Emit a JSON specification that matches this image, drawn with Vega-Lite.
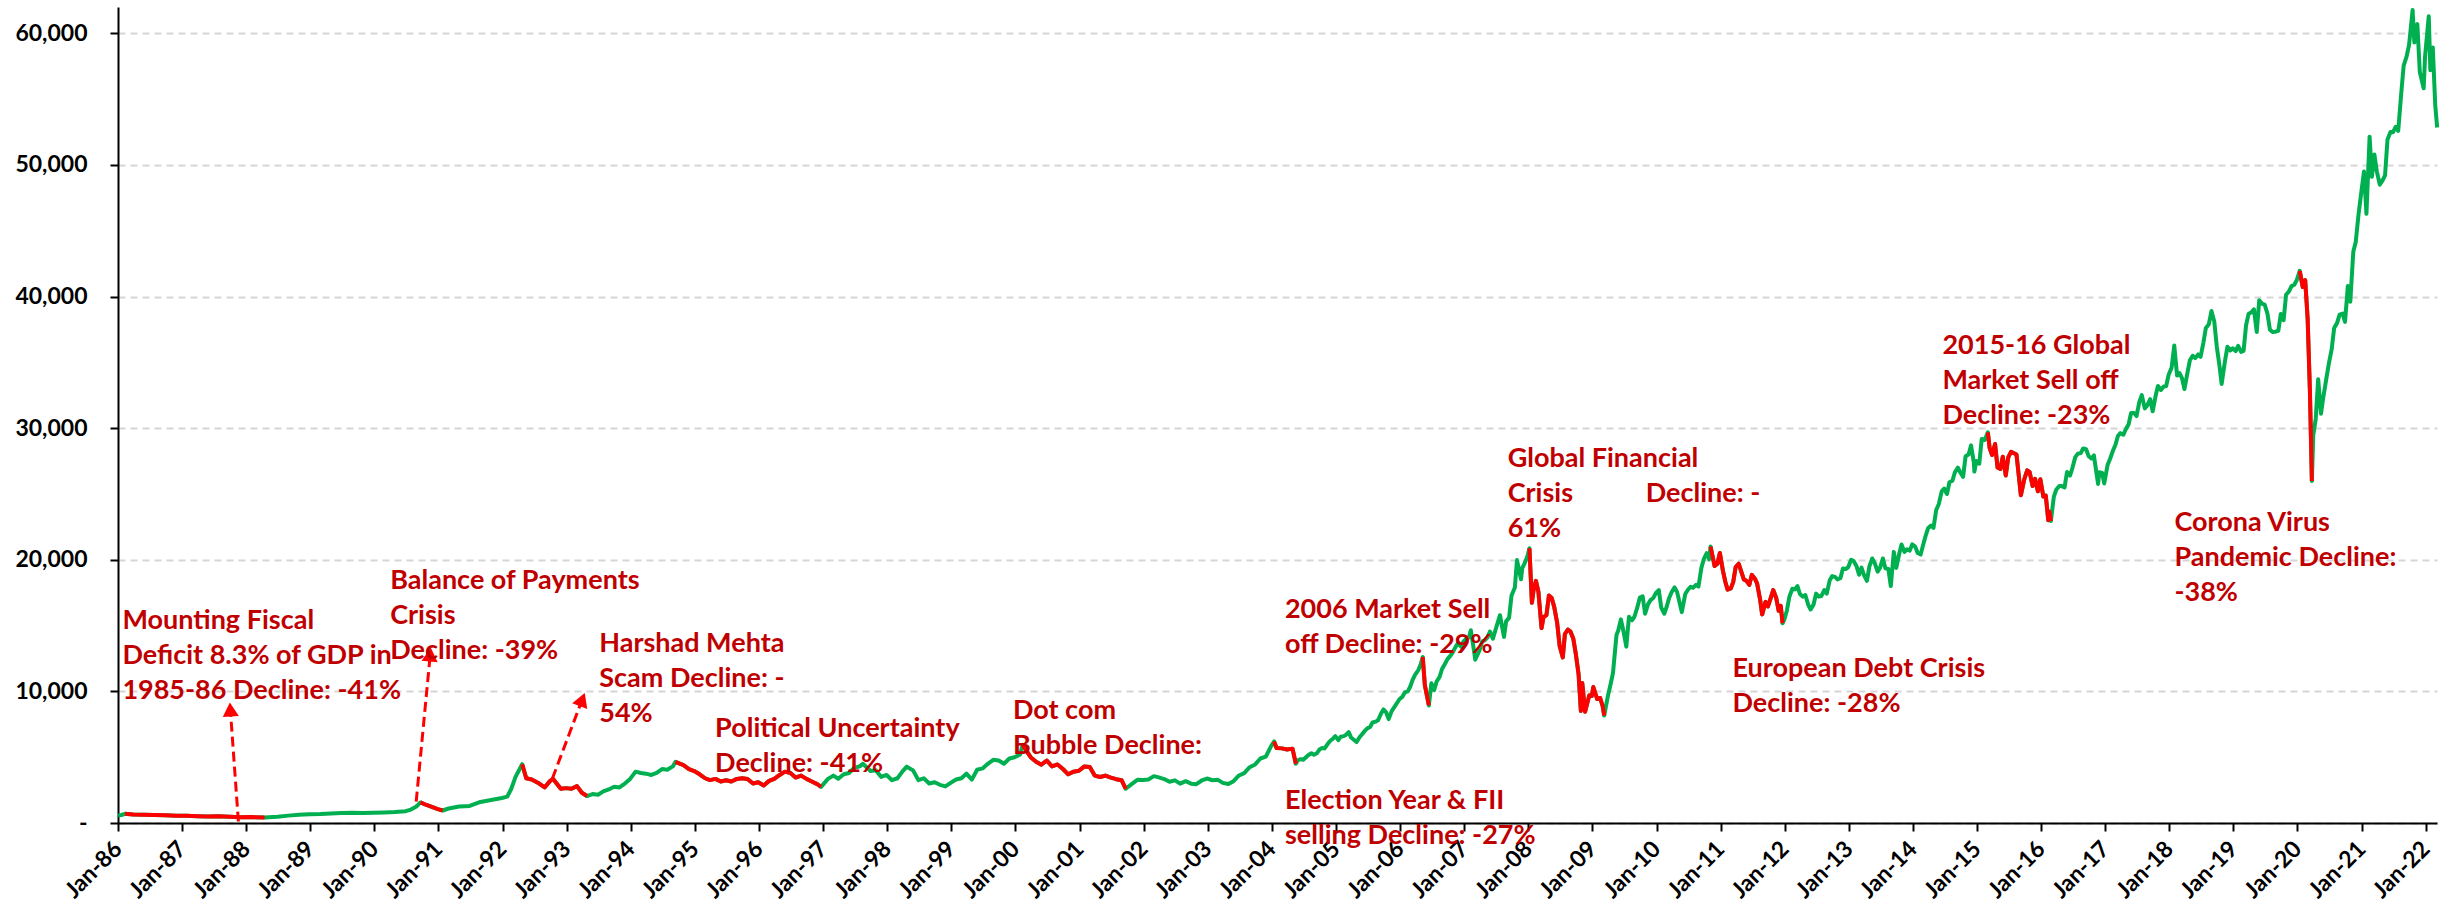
{
 "$schema": "https://vega.github.io/schema/vega-lite/v6.json",
 "width": 2319, "height": 816,
 "autosize": {"type": "none"},
 "padding": {"left": 118, "top": 7, "right": 19, "bottom": 93},
 "background": "white",
 "config": {"view": {"stroke": null}, "font": "Lato"},
 "datasets": {
  "s": [
{"d":"1986-01-02","v":560},{"d":"1986-01-20","v":610},
{"d":"1986-02-10","v":700,"r":1},{"d":"1986-03-28","v":640,"r":1},{"d":"1986-05-28","v":620,"r":1},{"d":"1986-07-28","v":600,"r":1},{"d":"1986-09-28","v":590,"r":1},{"d":"1986-11-28","v":560,"r":1},{"d":"1987-01-28","v":550,"r":1},{"d":"1987-03-28","v":520,"r":1},{"d":"1987-05-28","v":500,"r":1},{"d":"1987-07-28","v":520,"r":1},{"d":"1987-09-28","v":480,"r":1},{"d":"1987-11-28","v":430,"r":1},{"d":"1988-01-28","v":450,"r":1},{"d":"1988-04-15","v":410,"r":1},
{"d":"1988-06-28","v":470},{"d":"1988-08-28","v":560},{"d":"1988-10-28","v":620},{"d":"1988-12-28","v":660},{"d":"1989-02-28","v":680},{"d":"1989-04-28","v":720},{"d":"1989-06-28","v":760},{"d":"1989-08-28","v":780},{"d":"1989-10-28","v":760},{"d":"1989-12-28","v":780},{"d":"1990-02-28","v":800},{"d":"1990-04-28","v":830},{"d":"1990-06-28","v":900},{"d":"1990-07-28","v":1020},{"d":"1990-08-28","v":1250},
{"d":"1990-09-20","v":1560,"r":2},{"d":"1990-10-28","v":1350,"r":2},{"d":"1990-11-28","v":1200,"r":2},{"d":"1990-12-28","v":1050,"r":2},{"d":"1991-01-25","v":950,"r":2},
{"d":"1991-02-28","v":1100},{"d":"1991-04-28","v":1250},{"d":"1991-06-28","v":1300},{"d":"1991-08-28","v":1600},{"d":"1991-10-28","v":1750},{"d":"1991-12-28","v":1900},{"d":"1992-01-28","v":2000},{"d":"1992-02-20","v":2600},{"d":"1992-03-15","v":3500},
{"d":"1992-04-22","v":4467,"r":3},{"d":"1992-05-15","v":3400,"r":3},{"d":"1992-06-15","v":3300,"r":3},{"d":"1992-07-28","v":3000,"r":3},{"d":"1992-08-28","v":2700,"r":3},{"d":"1992-09-28","v":3200,"r":3},{"d":"1992-10-15","v":3350,"r":3},{"d":"1992-11-28","v":2600,"r":3},{"d":"1992-12-28","v":2650,"r":3},{"d":"1993-01-28","v":2600,"r":3},{"d":"1993-02-28","v":2800,"r":3},{"d":"1993-03-28","v":2300,"r":3},{"d":"1993-04-26","v":2050,"r":3},
{"d":"1993-05-28","v":2200},{"d":"1993-06-28","v":2150},{"d":"1993-07-28","v":2400},{"d":"1993-08-28","v":2550},{"d":"1993-09-28","v":2750},{"d":"1993-10-28","v":2700},{"d":"1993-11-28","v":3000},{"d":"1993-12-28","v":3350},{"d":"1994-01-28","v":3900},{"d":"1994-02-28","v":3800},{"d":"1994-03-28","v":3750},{"d":"1994-04-28","v":3650},{"d":"1994-05-28","v":3800},{"d":"1994-06-28","v":4100},{"d":"1994-07-28","v":4050},{"d":"1994-08-28","v":4300},
{"d":"1994-09-12","v":4643,"r":4},{"d":"1994-10-28","v":4400,"r":4},{"d":"1994-11-28","v":4100,"r":4},{"d":"1994-12-28","v":3950,"r":4},{"d":"1995-01-28","v":3700,"r":4},{"d":"1995-02-28","v":3400,"r":4},{"d":"1995-03-28","v":3260,"r":4},{"d":"1995-04-28","v":3350,"r":4},{"d":"1995-05-28","v":3150,"r":4},{"d":"1995-06-28","v":3250,"r":4},{"d":"1995-07-28","v":3150,"r":4},{"d":"1995-08-28","v":3350,"r":4},{"d":"1995-09-28","v":3400,"r":4},{"d":"1995-10-28","v":3350,"r":4},{"d":"1995-11-28","v":3000,"r":4},{"d":"1995-12-28","v":3100,"r":4},{"d":"1996-01-28","v":2850,"r":4},{"d":"1996-02-28","v":3200,"r":4},{"d":"1996-03-28","v":3350,"r":4},{"d":"1996-04-28","v":3650,"r":4},{"d":"1996-05-28","v":3900,"r":4},{"d":"1996-06-28","v":3800,"r":4},{"d":"1996-07-28","v":3450,"r":4},{"d":"1996-08-28","v":3600,"r":4},{"d":"1996-09-28","v":3350,"r":4},{"d":"1996-10-28","v":3150,"r":4},{"d":"1996-11-28","v":2950,"r":4},{"d":"1996-12-20","v":2745,"r":4},
{"d":"1997-01-28","v":3350},{"d":"1997-02-28","v":3600},{"d":"1997-03-28","v":3360},{"d":"1997-04-28","v":3700},{"d":"1997-05-28","v":3800},{"d":"1997-06-28","v":4200},{"d":"1997-07-28","v":4300},{"d":"1997-08-15","v":4500},{"d":"1997-09-28","v":3950},{"d":"1997-10-28","v":4000},{"d":"1997-11-28","v":3500},{"d":"1997-12-28","v":3650},{"d":"1998-01-28","v":3250},{"d":"1998-02-28","v":3400},{"d":"1998-03-28","v":3900},{"d":"1998-04-22","v":4280},{"d":"1998-05-28","v":4000},{"d":"1998-06-28","v":3250},{"d":"1998-07-28","v":3400},{"d":"1998-08-28","v":3000},{"d":"1998-09-28","v":3100},{"d":"1998-10-28","v":2900},{"d":"1998-11-28","v":2780},{"d":"1998-12-28","v":3050},{"d":"1999-01-28","v":3300},{"d":"1999-02-28","v":3400},{"d":"1999-03-28","v":3750},{"d":"1999-04-28","v":3300},{"d":"1999-05-28","v":4050},{"d":"1999-06-28","v":4150},{"d":"1999-07-28","v":4500},{"d":"1999-08-28","v":4800},{"d":"1999-09-28","v":4750},{"d":"1999-10-28","v":4500},{"d":"1999-11-28","v":4900},{"d":"1999-12-28","v":5000},{"d":"2000-01-28","v":5200},
{"d":"2000-02-11","v":5934,"r":5},{"d":"2000-03-28","v":5000,"r":5},{"d":"2000-04-28","v":4650,"r":5},{"d":"2000-05-28","v":4430,"r":5},{"d":"2000-06-28","v":4750,"r":5},{"d":"2000-07-28","v":4300,"r":5},{"d":"2000-08-28","v":4450,"r":5},{"d":"2000-09-28","v":4100,"r":5},{"d":"2000-10-28","v":3700,"r":5},{"d":"2000-11-28","v":3900,"r":5},{"d":"2000-12-28","v":3970,"r":5},{"d":"2001-01-28","v":4300,"r":5},{"d":"2001-02-28","v":4250,"r":5},{"d":"2001-03-28","v":3600,"r":5},{"d":"2001-04-28","v":3500,"r":5},{"d":"2001-05-28","v":3600,"r":5},{"d":"2001-06-28","v":3450,"r":5},{"d":"2001-07-28","v":3330,"r":5},{"d":"2001-08-28","v":3250,"r":5},{"d":"2001-09-21","v":2600,"r":5},
{"d":"2001-10-28","v":2990},{"d":"2001-11-28","v":3290},{"d":"2001-12-28","v":3260},{"d":"2002-01-28","v":3310},{"d":"2002-02-28","v":3560},{"d":"2002-03-28","v":3470},{"d":"2002-04-28","v":3340},{"d":"2002-05-28","v":3130},{"d":"2002-06-28","v":3240},{"d":"2002-07-28","v":2990},{"d":"2002-08-28","v":3180},{"d":"2002-09-28","v":2990},{"d":"2002-10-28","v":2950},{"d":"2002-11-28","v":3230},{"d":"2002-12-28","v":3380},{"d":"2003-01-28","v":3250},{"d":"2003-02-28","v":3280},{"d":"2003-03-28","v":3050},{"d":"2003-04-28","v":2960},{"d":"2003-05-28","v":3180},{"d":"2003-06-28","v":3610},{"d":"2003-07-28","v":3790},{"d":"2003-08-28","v":4240},{"d":"2003-09-28","v":4450},{"d":"2003-10-28","v":4900},{"d":"2003-11-28","v":5040},{"d":"2003-12-28","v":5840},
{"d":"2004-01-14","v":6194,"r":6},{"d":"2004-01-28","v":5700,"r":6},{"d":"2004-02-28","v":5670,"r":6},{"d":"2004-03-28","v":5590,"r":6},{"d":"2004-04-28","v":5650,"r":6},{"d":"2004-05-17","v":4505,"r":6},
{"d":"2004-05-28","v":4760},{"d":"2004-06-14","v":4850},{"d":"2004-06-28","v":4800},{"d":"2004-07-14","v":5000},{"d":"2004-07-28","v":5170},{"d":"2004-08-14","v":5300},{"d":"2004-08-28","v":5190},{"d":"2004-09-14","v":5300},{"d":"2004-09-28","v":5580},{"d":"2004-10-14","v":5700},{"d":"2004-10-28","v":5670},{"d":"2004-11-14","v":6000},{"d":"2004-11-28","v":6230},{"d":"2004-12-14","v":6400},{"d":"2004-12-28","v":6600},
{"d":"2005-01-14","v":6300},{"d":"2005-01-28","v":6560},{"d":"2005-02-14","v":6600},{"d":"2005-02-28","v":6710},{"d":"2005-03-14","v":6900},{"d":"2005-03-28","v":6490},{"d":"2005-04-14","v":6300},{"d":"2005-04-28","v":6150},{"d":"2005-05-14","v":6500},{"d":"2005-05-28","v":6720},{"d":"2005-06-14","v":7000},{"d":"2005-06-28","v":7190},{"d":"2005-07-14","v":7300},{"d":"2005-07-28","v":7640},{"d":"2005-08-14","v":7700},{"d":"2005-08-28","v":7800},{"d":"2005-09-14","v":8300},{"d":"2005-09-28","v":8630},{"d":"2005-10-14","v":8400},{"d":"2005-10-28","v":7890},{"d":"2005-11-14","v":8500},{"d":"2005-11-28","v":8790},{"d":"2005-12-14","v":9100},{"d":"2005-12-28","v":9400},
{"d":"2006-01-14","v":9600},{"d":"2006-01-28","v":9920},{"d":"2006-02-14","v":10000},{"d":"2006-02-28","v":10370},{"d":"2006-03-14","v":10900},{"d":"2006-03-28","v":11280},{"d":"2006-04-14","v":11600},{"d":"2006-04-28","v":12040},
{"d":"2006-05-10","v":12612,"r":7},{"d":"2006-05-22","v":10480,"r":7},{"d":"2006-06-14","v":8929,"r":7},
{"d":"2006-06-28","v":10610},{"d":"2006-07-14","v":10100},{"d":"2006-07-28","v":10740},{"d":"2006-08-14","v":11100},{"d":"2006-08-28","v":11700},{"d":"2006-09-14","v":12100},{"d":"2006-09-28","v":12450},{"d":"2006-10-14","v":12700},{"d":"2006-10-28","v":12960},{"d":"2006-11-14","v":13400},{"d":"2006-11-28","v":13700},{"d":"2006-12-14","v":13400},{"d":"2006-12-28","v":13790},
{"d":"2007-01-14","v":14000},{"d":"2007-01-28","v":14090},{"d":"2007-02-08","v":14650},{"d":"2007-02-28","v":12940},{"d":"2007-03-05","v":12410},{"d":"2007-03-28","v":13070},{"d":"2007-04-14","v":13800},{"d":"2007-04-28","v":13870},{"d":"2007-05-14","v":14100},{"d":"2007-05-28","v":14540},{"d":"2007-06-14","v":14000},{"d":"2007-06-28","v":14650},{"d":"2007-07-24","v":15790},{"d":"2007-08-16","v":14140},{"d":"2007-08-28","v":15320},{"d":"2007-09-14","v":15600},{"d":"2007-09-28","v":17290},{"d":"2007-10-17","v":17900},{"d":"2007-10-29","v":19980},{"d":"2007-11-21","v":18520},{"d":"2007-11-28","v":19360},{"d":"2007-12-14","v":19800},{"d":"2007-12-28","v":20290},
{"d":"2008-01-08","v":20873,"r":8},{"d":"2008-01-22","v":16730,"r":8},{"d":"2008-01-31","v":17650,"r":8},{"d":"2008-02-14","v":18400,"r":8},{"d":"2008-02-28","v":17580,"r":8},{"d":"2008-03-17","v":14810,"r":8},{"d":"2008-03-28","v":15640,"r":8},{"d":"2008-04-14","v":15800,"r":8},{"d":"2008-04-28","v":17290,"r":8},{"d":"2008-05-14","v":17100,"r":8},{"d":"2008-05-28","v":16420,"r":8},{"d":"2008-06-14","v":15200,"r":8},{"d":"2008-06-28","v":13460,"r":8},{"d":"2008-07-16","v":12580,"r":8},{"d":"2008-07-28","v":14360,"r":8},{"d":"2008-08-14","v":14700,"r":8},{"d":"2008-08-28","v":14560,"r":8},{"d":"2008-09-14","v":14000,"r":8},{"d":"2008-09-28","v":12860,"r":8},{"d":"2008-10-14","v":11300,"r":8},{"d":"2008-10-27","v":8510,"r":8},{"d":"2008-11-04","v":10630,"r":8},{"d":"2008-11-20","v":8450,"r":8},{"d":"2008-12-14","v":9700,"r":8},{"d":"2008-12-28","v":9650,"r":8},{"d":"2009-01-06","v":10330,"r":8},{"d":"2009-01-28","v":9420,"r":8},{"d":"2009-02-14","v":9500,"r":8},{"d":"2009-02-28","v":8890,"r":8},{"d":"2009-03-09","v":8160,"r":8},
{"d":"2009-03-31","v":9710},{"d":"2009-04-14","v":10520},{"d":"2009-04-28","v":11400},{"d":"2009-05-18","v":14280},{"d":"2009-05-28","v":14630},{"d":"2009-06-12","v":15470},{"d":"2009-06-28","v":14490},{"d":"2009-07-13","v":13400},{"d":"2009-07-28","v":15670},{"d":"2009-08-14","v":15400},{"d":"2009-08-28","v":15670},{"d":"2009-09-14","v":16400},{"d":"2009-09-28","v":17130},{"d":"2009-10-14","v":17230},{"d":"2009-10-28","v":15900},{"d":"2009-11-14","v":16630},{"d":"2009-11-28","v":16930},{"d":"2009-12-14","v":17100},{"d":"2009-12-28","v":17460},
{"d":"2010-01-14","v":17700},{"d":"2010-01-28","v":16360},{"d":"2010-02-14","v":15900},{"d":"2010-02-28","v":16430},{"d":"2010-03-14","v":17100},{"d":"2010-03-28","v":17530},{"d":"2010-04-14","v":17900},{"d":"2010-04-28","v":17560},{"d":"2010-05-25","v":16020},{"d":"2010-06-14","v":17400},{"d":"2010-06-28","v":17700},{"d":"2010-07-14","v":17950},{"d":"2010-07-28","v":17870},{"d":"2010-08-14","v":18100},{"d":"2010-08-28","v":17970},{"d":"2010-09-14","v":19400},{"d":"2010-09-28","v":20070},{"d":"2010-10-14","v":20500},{"d":"2010-10-28","v":20030},
{"d":"2010-11-05","v":21005,"r":9},{"d":"2010-11-28","v":19520,"r":9},{"d":"2010-12-14","v":19700,"r":9},{"d":"2010-12-28","v":20510,"r":9},{"d":"2011-01-14","v":19200,"r":9},{"d":"2011-01-28","v":18330,"r":9},{"d":"2011-02-10","v":17730,"r":9},{"d":"2011-02-28","v":17820,"r":9},{"d":"2011-03-14","v":18300,"r":9},{"d":"2011-03-28","v":19450,"r":9},{"d":"2011-04-14","v":19700,"r":9},{"d":"2011-04-28","v":19140,"r":9},{"d":"2011-05-14","v":18500,"r":9},{"d":"2011-05-28","v":18400,"r":9},{"d":"2011-06-14","v":18100,"r":9},{"d":"2011-06-28","v":18850,"r":9},{"d":"2011-07-14","v":18600,"r":9},{"d":"2011-07-28","v":18200,"r":9},{"d":"2011-08-14","v":17000,"r":9},{"d":"2011-08-26","v":15850,"r":9},{"d":"2011-09-14","v":16800,"r":9},{"d":"2011-09-28","v":16450,"r":9},{"d":"2011-10-14","v":17100,"r":9},{"d":"2011-10-28","v":17700,"r":9},{"d":"2011-11-14","v":17100,"r":9},{"d":"2011-11-28","v":16120,"r":9},{"d":"2011-12-10","v":16500,"r":9},{"d":"2011-12-20","v":15175,"r":9},
{"d":"2011-12-30","v":15450},{"d":"2012-01-14","v":16150},{"d":"2012-01-28","v":17190},{"d":"2012-02-14","v":17800},{"d":"2012-02-28","v":17750},{"d":"2012-03-14","v":18000},{"d":"2012-03-28","v":17400},{"d":"2012-04-14","v":17200},{"d":"2012-04-28","v":17320},{"d":"2012-05-14","v":16600},{"d":"2012-05-28","v":16220},{"d":"2012-06-14","v":16600},{"d":"2012-06-28","v":17430},{"d":"2012-07-14","v":17200},{"d":"2012-07-28","v":17240},{"d":"2012-08-14","v":17700},{"d":"2012-08-28","v":17430},{"d":"2012-09-14","v":18450},{"d":"2012-09-28","v":18760},{"d":"2012-10-14","v":18700},{"d":"2012-10-28","v":18510},{"d":"2012-11-14","v":18600},{"d":"2012-11-28","v":19340},{"d":"2012-12-14","v":19300},{"d":"2012-12-28","v":19430},
{"d":"2013-01-14","v":20000},{"d":"2013-01-28","v":19900},{"d":"2013-02-14","v":19500},{"d":"2013-02-28","v":18860},{"d":"2013-03-14","v":19400},{"d":"2013-03-28","v":18840},{"d":"2013-04-14","v":18400},{"d":"2013-04-28","v":19500},{"d":"2013-05-14","v":20100},{"d":"2013-05-28","v":19760},{"d":"2013-06-14","v":19100},{"d":"2013-06-28","v":19400},{"d":"2013-07-14","v":20100},{"d":"2013-07-28","v":19350},{"d":"2013-08-14","v":19300},{"d":"2013-08-28","v":18000},{"d":"2013-09-14","v":20600},{"d":"2013-09-28","v":19380},{"d":"2013-10-14","v":20400},{"d":"2013-10-28","v":21160},{"d":"2013-11-14","v":20600},{"d":"2013-11-28","v":20790},{"d":"2013-12-14","v":20700},{"d":"2013-12-28","v":21170},
{"d":"2014-01-14","v":21000},{"d":"2014-01-28","v":20510},{"d":"2014-02-14","v":20400},{"d":"2014-02-28","v":21120},{"d":"2014-03-14","v":21800},{"d":"2014-03-28","v":22390},{"d":"2014-04-14","v":22600},{"d":"2014-04-28","v":22420},{"d":"2014-05-14","v":23800},{"d":"2014-05-28","v":24220},{"d":"2014-06-14","v":25200},{"d":"2014-06-28","v":25410},{"d":"2014-07-14","v":25000},{"d":"2014-07-28","v":25890},{"d":"2014-08-14","v":26000},{"d":"2014-08-28","v":26640},{"d":"2014-09-14","v":27000},{"d":"2014-09-28","v":26630},{"d":"2014-10-14","v":26300},{"d":"2014-10-28","v":27870},{"d":"2014-11-14","v":28000},{"d":"2014-11-28","v":28690},{"d":"2014-12-14","v":27400},{"d":"2014-12-17","v":26700},{"d":"2014-12-28","v":27500},{"d":"2015-01-14","v":27300},{"d":"2015-01-28","v":29180},{"d":"2015-02-14","v":29100},
{"d":"2015-03-04","v":29681,"r":10},{"d":"2015-03-14","v":28500,"r":10},{"d":"2015-03-28","v":27960,"r":10},{"d":"2015-04-14","v":28800,"r":10},{"d":"2015-04-28","v":27010,"r":10},{"d":"2015-05-14","v":26900,"r":10},{"d":"2015-05-28","v":27830,"r":10},{"d":"2015-06-14","v":26400,"r":10},{"d":"2015-06-28","v":27780,"r":10},{"d":"2015-07-14","v":28200,"r":10},{"d":"2015-07-28","v":28110,"r":10},{"d":"2015-08-14","v":28000,"r":10},{"d":"2015-08-28","v":26280,"r":10},{"d":"2015-09-08","v":24900,"r":10},{"d":"2015-09-28","v":26150,"r":10},{"d":"2015-10-14","v":26800,"r":10},{"d":"2015-10-28","v":26660,"r":10},{"d":"2015-11-14","v":25600,"r":10},{"d":"2015-11-28","v":26150,"r":10},{"d":"2015-12-14","v":25200,"r":10},{"d":"2015-12-28","v":26120,"r":10},{"d":"2016-01-14","v":24800,"r":10},{"d":"2016-01-28","v":24870,"r":10},{"d":"2016-02-11","v":23000,"r":10},{"d":"2016-02-18","v":23650,"r":10},{"d":"2016-02-26","v":22951,"r":10},
{"d":"2016-03-14","v":24800},{"d":"2016-03-28","v":25340},{"d":"2016-04-14","v":25600},{"d":"2016-04-28","v":25600},{"d":"2016-05-14","v":25500},{"d":"2016-05-28","v":26670},{"d":"2016-06-14","v":26400},{"d":"2016-06-28","v":26990},{"d":"2016-07-14","v":27800},{"d":"2016-07-28","v":28050},{"d":"2016-08-14","v":28100},{"d":"2016-08-28","v":28450},{"d":"2016-09-14","v":28400},{"d":"2016-09-28","v":27870},{"d":"2016-10-14","v":27700},{"d":"2016-10-28","v":27930},{"d":"2016-11-21","v":25765},{"d":"2016-11-28","v":26650},{"d":"2016-12-14","v":26600},{"d":"2016-12-26","v":25800},
{"d":"2017-01-14","v":27200},{"d":"2017-01-28","v":27660},{"d":"2017-02-14","v":28300},{"d":"2017-02-28","v":28740},{"d":"2017-03-14","v":29400},{"d":"2017-03-28","v":29620},{"d":"2017-04-14","v":29500},{"d":"2017-04-28","v":29920},{"d":"2017-05-14","v":30300},{"d":"2017-05-28","v":31150},{"d":"2017-06-14","v":31150},{"d":"2017-06-28","v":30920},{"d":"2017-07-14","v":32000},{"d":"2017-07-28","v":32510},{"d":"2017-08-14","v":31500},{"d":"2017-08-28","v":31730},{"d":"2017-09-14","v":32200},{"d":"2017-09-28","v":31280},{"d":"2017-10-14","v":32400},{"d":"2017-10-28","v":33210},{"d":"2017-11-14","v":32900},{"d":"2017-11-28","v":33150},{"d":"2017-12-14","v":33200},{"d":"2017-12-28","v":34060},
{"d":"2018-01-14","v":34600},{"d":"2018-01-29","v":36280},{"d":"2018-02-14","v":34000},{"d":"2018-02-28","v":34180},{"d":"2018-03-14","v":33800},{"d":"2018-03-28","v":32970},{"d":"2018-04-14","v":34200},{"d":"2018-04-28","v":35160},{"d":"2018-05-14","v":35500},{"d":"2018-05-28","v":35320},{"d":"2018-06-14","v":35600},{"d":"2018-06-28","v":35420},{"d":"2018-07-14","v":36500},{"d":"2018-07-28","v":37610},{"d":"2018-08-14","v":37900},{"d":"2018-08-29","v":38900},{"d":"2018-09-14","v":38100},{"d":"2018-09-28","v":36230},{"d":"2018-10-14","v":34700},{"d":"2018-10-26","v":33350},{"d":"2018-11-14","v":35100},{"d":"2018-11-28","v":36190},{"d":"2018-12-14","v":35900},{"d":"2018-12-28","v":36070},
{"d":"2019-01-14","v":35850},{"d":"2019-01-28","v":36260},{"d":"2019-02-14","v":35800},{"d":"2019-02-28","v":35870},{"d":"2019-03-14","v":37800},{"d":"2019-03-28","v":38670},{"d":"2019-04-14","v":38800},{"d":"2019-04-28","v":39030},{"d":"2019-05-14","v":37300},{"d":"2019-05-28","v":39710},{"d":"2019-06-14","v":39450},{"d":"2019-06-28","v":39390},{"d":"2019-07-14","v":38700},{"d":"2019-07-28","v":37480},{"d":"2019-08-14","v":37300},{"d":"2019-08-28","v":37330},{"d":"2019-09-14","v":37400},{"d":"2019-09-28","v":38670},{"d":"2019-10-14","v":38200},{"d":"2019-10-28","v":40130},{"d":"2019-11-14","v":40400},{"d":"2019-11-28","v":40790},{"d":"2019-12-14","v":40900},{"d":"2019-12-28","v":41250},
{"d":"2020-01-14","v":41952,"r":11},{"d":"2020-01-31","v":40720,"r":11},{"d":"2020-02-14","v":41250,"r":11},{"d":"2020-02-28","v":38300,"r":11},{"d":"2020-03-12","v":32780,"r":11},{"d":"2020-03-23","v":25981,"r":11},
{"d":"2020-03-31","v":29470},{"d":"2020-04-14","v":30700},{"d":"2020-04-28","v":33720},{"d":"2020-05-14","v":31100},{"d":"2020-05-28","v":32420},{"d":"2020-06-14","v":33800},{"d":"2020-06-28","v":34920},{"d":"2020-07-14","v":36000},{"d":"2020-07-28","v":37610},{"d":"2020-08-14","v":38000},{"d":"2020-08-28","v":38630},{"d":"2020-09-14","v":38700},{"d":"2020-09-28","v":38070},{"d":"2020-10-14","v":40800},{"d":"2020-10-28","v":39610},{"d":"2020-11-14","v":43400},{"d":"2020-11-28","v":44150},{"d":"2020-12-14","v":46250},{"d":"2020-12-28","v":47750},
{"d":"2021-01-14","v":49500},{"d":"2021-01-28","v":46290},{"d":"2021-02-15","v":52150},{"d":"2021-02-28","v":49100},{"d":"2021-03-14","v":50800},{"d":"2021-03-28","v":49510},{"d":"2021-04-14","v":48500},{"d":"2021-04-28","v":48780},{"d":"2021-05-14","v":49200},{"d":"2021-05-28","v":51940},{"d":"2021-06-14","v":52500},{"d":"2021-06-28","v":52480},{"d":"2021-07-14","v":52900},{"d":"2021-07-28","v":52590},{"d":"2021-08-14","v":55400},{"d":"2021-08-28","v":57550},{"d":"2021-09-14","v":58250},{"d":"2021-09-28","v":59130},{"d":"2021-10-18","v":61766},{"d":"2021-10-28","v":59310},{"d":"2021-11-14","v":60700},{"d":"2021-11-28","v":57060},{"d":"2021-12-20","v":55820},{"d":"2021-12-28","v":58250},{"d":"2022-01-18","v":61300},{"d":"2022-01-27","v":57200},{"d":"2022-02-10","v":58930},{"d":"2022-02-24","v":54530},{"d":"2022-03-07","v":52843}
  ],
  "notes": [
   {"d":"1986-01-26","v":14736,"t":"Mounting Fiscal\nDeficit 8.3% of GDP in\n1985-86 Decline: -41%"},
   {"d":"1990-04-01","v":17774,"t":"Balance of Payments\nCrisis\nDecline: -39%"},
   {"d":"1993-07-05","v":12989,"t":"Harshad Mehta\nScam Decline: -\n54%"},
   {"d":"1995-04-26","v":6532,"t":"Political Uncertainty\nDecline: -41%"},
   {"d":"1999-12-18","v":7900,"t":"Dot com\nBubble Decline:"},
   {"d":"2004-03-16","v":15571,"t":"2006 Market Sell\noff Decline: -29%"},
   {"d":"2004-03-16","v":1063,"t":"Election Year & FII\nselling Decline: -27%"},
   {"d":"2007-09-06","v":27041,"t":"Global Financial\nCrisis\n61%"},
   {"d":"2009-10-31","v":24383,"t":"Decline: -"},
   {"d":"2011-03-10","v":11090,"t":"European Debt Crisis\nDecline: -28%"},
   {"d":"2014-06-18","v":35625,"t":"2015-16 Global\nMarket Sell off\nDecline: -23%"},
   {"d":"2018-01-30","v":22180,"t":"Corona Virus\nPandemic Decline:\n-38%"}
  ],
  "arrows": [
   {"id":1,"d1":"1987-11-18","v1":114,"d2":"1987-10-03","v2":8618},
   {"id":2,"d1":"1990-08-27","v1":1632,"d2":"1990-11-15","v2":12794},
   {"id":3,"d1":"1992-10-11","v1":3379,"d2":"1993-03-30","v2":9377}
  ]
 },
 "layer": [
  {
   "data": {"name": "s"},
   "mark": {"type": "line", "color": "#00B050", "strokeWidth": 4, "strokeJoin": "round"},
   "encoding": {
    "x": {"field": "d", "type": "temporal",
     "scale": {"domain": [{"year":1986,"month":1,"date":1},{"year":2022,"month":3,"date":6}]},
     "axis": {"title": null, "format": "%b-%y", "tickCount": {"interval": "year", "step": 1},
      "labelAngle": -45, "labelAlign": "right", "labelBaseline": "middle", "labelPadding": 14,
      "grid": false, "domainColor": "black", "domainWidth": 2, "tickColor": "black", "tickWidth": 2, "tickSize": 8,
      "labelFont": "Lato", "labelFontWeight": "bold", "labelFontSize": 23, "labelColor": "black",
      "labelOverlap": false, "labelBound": false, "labelFlush": false}},
    "y": {"field": "v", "type": "quantitative",
     "scale": {"domain": [0, 62000], "nice": false},
     "axis": {"title": null, "values": [0,10000,20000,30000,40000,50000,60000], "format": ",.0f",
      "labelExpr": "datum.value === 0 ? '-\u00a0\u00a0\u00a0' : datum.label",
      "grid": true, "gridDash": [7,5], "gridColor": "#D6D6D6", "gridWidth": 2,
      "domainColor": "black", "domainWidth": 2, "tickColor": "black", "tickWidth": 2, "tickSize": 8,
      "labelFont": "Lato", "labelFontWeight": "bold", "labelFontSize": 23, "labelColor": "black", "labelPadding": 23}}
   }
  },
  {
   "data": {"name": "s"},
   "transform": [{"filter": "datum.r"}],
   "mark": {"type": "line", "color": "#FF0000", "strokeWidth": 4, "strokeJoin": "round"},
   "encoding": {
    "x": {"field": "d", "type": "temporal"},
    "y": {"field": "v", "type": "quantitative"},
    "detail": {"field": "r", "type": "nominal"}
   }
  },
  {
   "data": {"name": "arrows"},
   "mark": {"type": "rule", "color": "#FF0000", "strokeWidth": 3, "strokeDash": [10,5]},
   "encoding": {
    "x": {"field": "d1", "type": "temporal"},
    "y": {"field": "v1", "type": "quantitative"},
    "x2": {"field": "d2"},
    "y2": {"field": "v2"}
   }
  },
  {
   "data": {"name": "arrows"},
   "mark": {"type": "point", "shape": "triangle-up", "filled": true, "color": "#FF0000", "size": 260, "opacity": 1},
   "encoding": {
    "x": {"field": "d2", "type": "temporal"},
    "y": {"field": "v2", "type": "quantitative"},
    "angle": {"field": "id", "type": "quantitative", "scale": {"domain": [1,2,3], "range": [-4,5,21]}, "legend": null}
   }
  },
  {
   "data": {"name": "notes"},
   "mark": {"type": "text", "align": "left", "baseline": "alphabetic", "font": "Lato", "fontWeight": "bold", "fontSize": 27, "color": "#C00000", "lineBreak": "\n", "lineHeight": 35},
   "encoding": {
    "x": {"field": "d", "type": "temporal"},
    "y": {"field": "v", "type": "quantitative"},
    "text": {"field": "t"}
   }
  }
 ]
}
